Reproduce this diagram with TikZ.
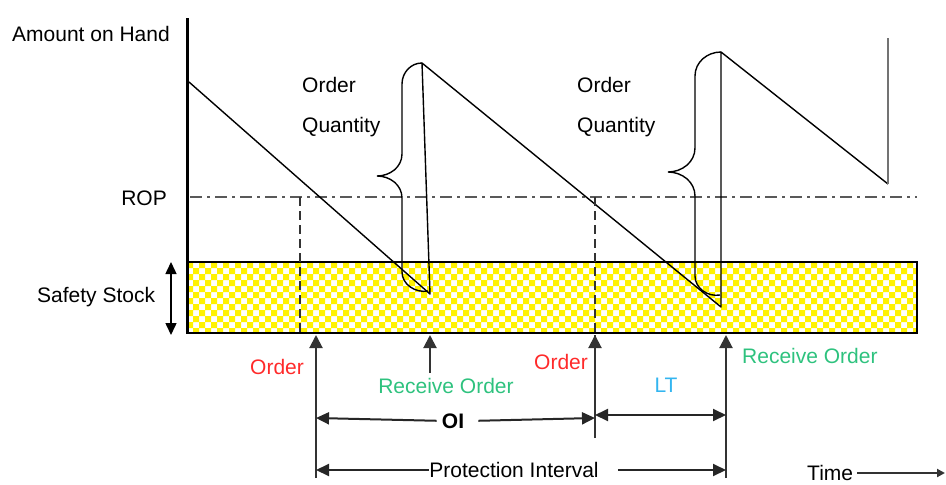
\documentclass[tikz,border=0pt]{standalone}
\usepackage{fontspec}
\setmainfont{Liberation Sans}
\usetikzlibrary{arrows.meta,calc,positioning}

\definecolor{ordred}{HTML}{FF2A2A}
\definecolor{recgreen}{HTML}{2EC27E}
\definecolor{ltblue}{HTML}{33B5F0}

\tikzset{
 lbl/.style={inner sep=0pt,font=\fontsize{21}{25}\selectfont},
 saw/.style={line width=1.4pt,line join=round},
 qbrace/.style={line width=1.4pt},
 ropline/.style={black!65,line width=2pt,dash pattern=on 12pt off 5pt on 3pt off 5pt},
 ordline/.style={black!80,line width=2.2pt,dash pattern=on 9pt off 5pt},
 upar/.style={black!80,line width=2pt,-{Triangle[width=13pt,length=13pt]}},
 dimar/.style={black!85,line width=2pt,-{Triangle[width=12pt,length=13pt]}},
}

\begin{document}
\begin{tikzpicture}[x=1pt,y=-1pt]
\useasboundingbox (0,0) rectangle (946,485);
% safety stock band, yellow checks
\begin{scope}
\clip (187,262) rectangle (917,333);
\fill[yellow] \foreach \r [evaluate=\r as \s using {6*mod(\r,2)}] in {0,...,11}{
  \foreach \c in {0,...,60}{ ({187+\s+12*\c},{262+6*\r}) rectangle ++(6,6) }};
\end{scope}
\draw[line width=1.5pt] (187,262) rectangle (917,333);
\draw[line width=3pt] (187,18) -- (187,334);

% reorder point
\draw[ropline] (190,197) -- (917,197);

% stock level
\coordinate (s0) at (189,82);
\coordinate (b1) at (430,294);
\coordinate (p1) at (422,63);
\coordinate (b2) at (721,307);
\coordinate (p2) at (721,52);
\coordinate (b3) at (888,184);
\coordinate (p3) at (888,38);
\draw[saw] (s0) -- (b1) -- (p1) -- (b2) -- (p2) -- (b3);
\draw[saw,black!55] (b3) -- (p3);

% order quantity braces
\draw[qbrace] (p1) to[out=180,in=90] (402,84) -- (402,154)
  to[out=-90,in=0] (377,176) to[out=0,in=90] (402,198) -- (402,272)
  to[out=-90,in=190] (428,291);
\draw[qbrace] (p2) to[out=180,in=90] (695,76) -- (695,148)
  to[out=-90,in=0] (668,172) to[out=0,in=90] (695,196) -- (695,276)
  to[out=-90,in=190] (720,295);

% order points
\coordinate (o1) at (300,197);
\coordinate (o2) at (595,197);
\draw[ordline] (o1) -- (o1 |- 0,333);
\draw[ordline] (o2) -- (o2 |- 0,333);

% arrows under the axis
\coordinate (a1) at (316,335);
\coordinate (a2) at (430,335);
\coordinate (a3) at (595,335);
\coordinate (a4) at (726,335);
\draw[upar] (a1 |- 0,478) -- (a1);
\draw[upar] (a2 |- 0,373) -- (a2);
\draw[upar] (a3 |- 0,438) -- (a3);
\draw[upar] (a4 |- 0,478) -- (a4);

% labels
\node[lbl,anchor=base west] (amount) at (12,41) {Amount on Hand};
\node[lbl,anchor=base east] (rop) at (167,205) {ROP};
\node[lbl,anchor=base west] (safety) at (37,302) {Safety Stock};
\node[lbl,anchor=base west] (oq1) at (302,92) {Order};
\node[lbl,anchor=base west] (qty1) at (302,132) {Quantity};
\node[lbl,anchor=base west] (oq2) at (577,92) {Order};
\node[lbl,anchor=base west] (qty2) at (577,132) {Quantity};
\node[lbl,anchor=base west,text=ordred] (ord1) at (250,374) {Order};
\node[lbl,anchor=base west,text=ordred] (ord2) at (534,369) {Order};
\node[lbl,anchor=base,text=recgreen] (rec1) at (446,393) {Receive Order};
\node[lbl,anchor=base west,text=recgreen] (rec2) at (742,363) {Receive Order};
\node[lbl,anchor=base,text=ltblue] (lt) at (666,392) {LT};
\node[lbl,anchor=base,font=\fontsize{21}{25}\selectfont\bfseries] (oi) at (453,428) {OI};
\node[lbl,anchor=base] (prot) at (514,477) {Protection Interval};
\node[lbl,anchor=base west] (time) at (807,480) {Time};

% safety stock span
\coordinate (ss1) at (171,262);
\coordinate (ss2) at (171,335);
\draw[line width=1.5pt,{Triangle[width=11pt,length=12pt]}-{Triangle[width=11pt,length=12pt]}] (ss1) -- (ss2);

% intervals
\draw[dimar] ([xshift=-5pt]oi.west) -- (a1 |- 0,418);
\draw[dimar] ([xshift=14pt]oi.east) -- (a3 |- 0,418);
\draw[line width=2pt,black!80] (a3) -- (a3 |- 0,438);
\draw[dimar,{Triangle[width=12pt,length=13pt]}-{Triangle[width=12pt,length=13pt]}] (a3 |- 0,415) -- (a4 |- 0,415);
\draw[dimar] (prot.west |- 0,470) -- (a1 |- 0,470);
\draw[dimar] ([xshift=19pt]prot.east |- 0,470) -- (a4 |- 0,470);
\coordinate (tend) at (945,473);
\draw[black!80,line width=2pt,-{Triangle[width=8pt,length=8pt]}] ([xshift=4pt]time.east |- 0,473) -- (tend);
\end{tikzpicture}
\end{document}
